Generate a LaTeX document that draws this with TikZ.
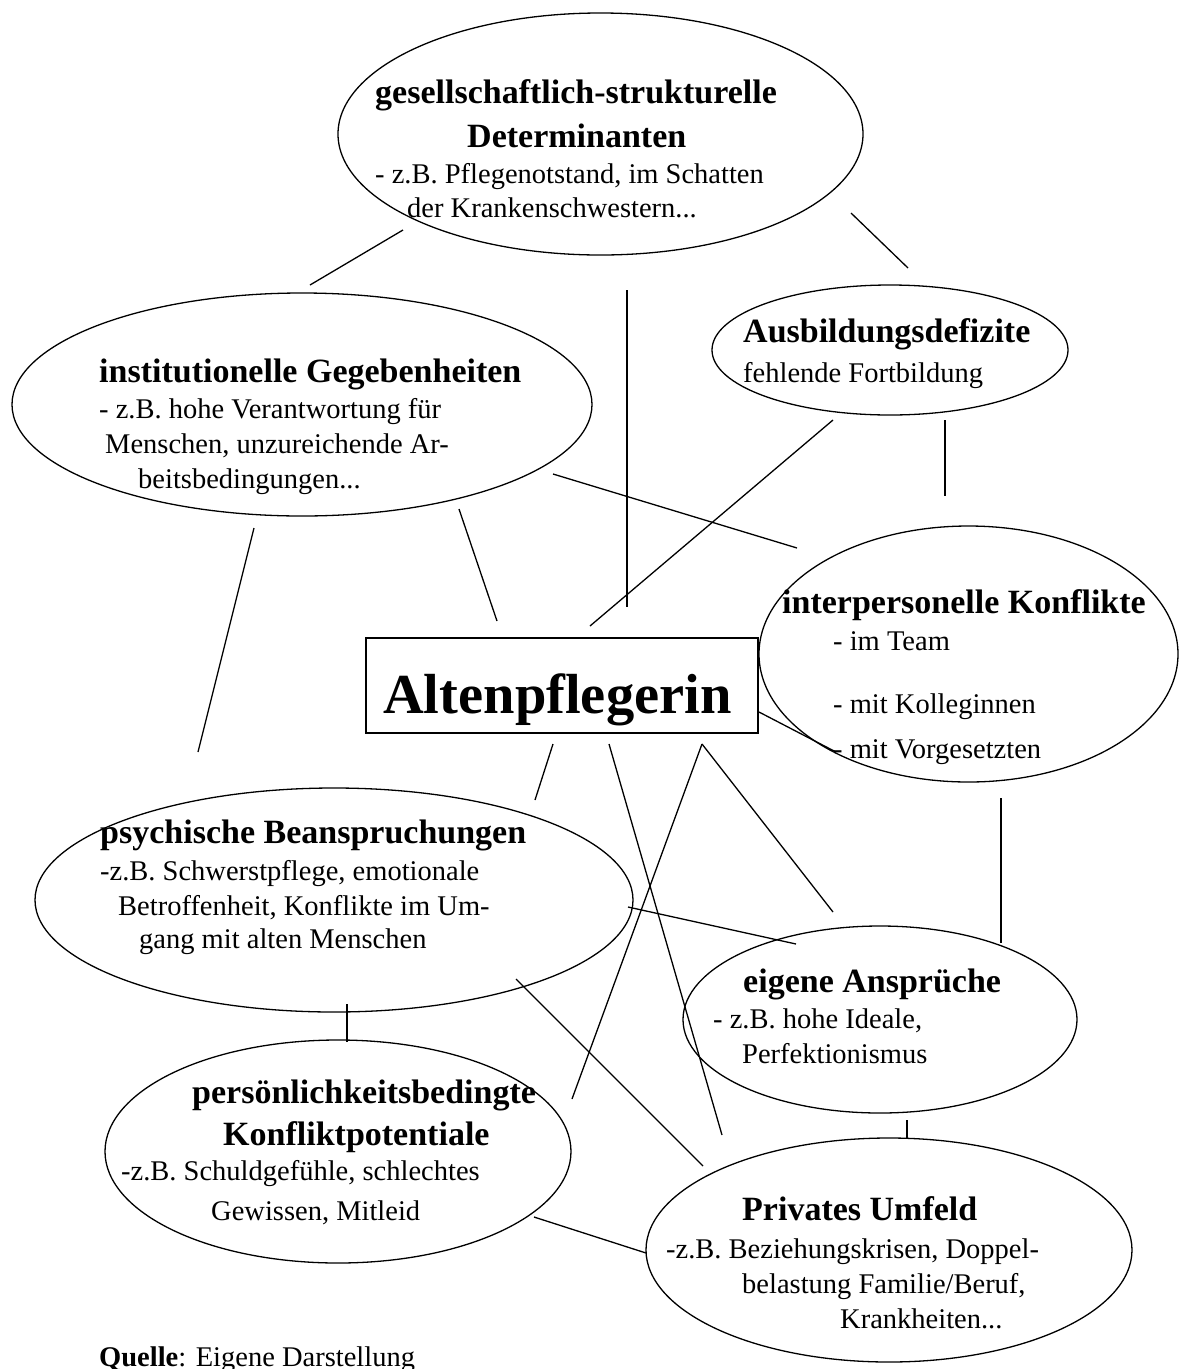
\documentclass[tikz,border=0pt]{standalone}
\usepackage{fontspec}
\setmainfont{Liberation Serif}
\usetikzlibrary{shapes.geometric}
\begin{document}
\begin{tikzpicture}[x=1pt,y=-1pt,
  ell/.style={draw,ellipse,line width=1.3pt,inner sep=0pt,outer sep=0pt},
  link/.style={line width=1.3pt},
  hd/.style={anchor=base west,inner sep=0pt,font=\fontsize{34}{40}\selectfont\bfseries},
  tx/.style={anchor=base west,inner sep=0pt,font=\fontsize{28.5}{34}\selectfont},
  big/.style={anchor=base west,inner sep=0pt,font=\fontsize{56.5}{66}\selectfont\bfseries}]
\useasboundingbox[fill=white] (0,0) rectangle (1179,1369);

% factor ellipses
\node[ell,minimum width=525,minimum height=242] (G)  at (600.5,134) {};
\node[ell,minimum width=580,minimum height=223] (I)  at (302,404.5) {};
\node[ell,minimum width=356,minimum height=130] (A)  at (890,350) {};
\node[ell,minimum width=419,minimum height=256] (K)  at (968.5,654) {};
\node[ell,minimum width=598,minimum height=224] (P)  at (334,900) {};
\node[ell,minimum width=394,minimum height=187] (E)  at (880,1019.5) {};
\node[ell,minimum width=466,minimum height=223] (Pk) at (338,1151.5) {};
\node[ell,minimum width=486,minimum height=224] (Pr) at (889,1250) {};

% central box
\node[draw,line width=1.3pt,minimum width=392,minimum height=95,inner sep=0pt] (box) at (562,685.5) {};
\node[big] (boxt) at (383,713) {Altenpflegerin};

% texts
\node[hd] (G1) at (375,103) {gesellschaftlich-strukturelle};
\node[hd] (G2) at (467,147) {Determinanten};
\node[tx] (G3) at (375,183) {- z.B. Pflegenotstand, im Schatten};
\node[tx] (G4) at (407,217) {der Krankenschwestern...};

\node[hd] (I1) at (99,382) {institutionelle Gegebenheiten};
\node[tx] (I2) at (99,418) {- z.B. hohe Verantwortung für};
\node[tx] (I3) at (105,453) {Menschen, unzureichende Ar-};
\node[tx] (I4) at (138,488) {beitsbedingungen...};

\node[hd] (A1) at (743,342) {Ausbildungsdefizite};
\node[tx] (A2) at (743,382) {fehlende Fortbildung};

\node[hd] (K1) at (782,613) {interpersonelle Konflikte};
\node[tx] (K2) at (833,650) {- im Team};
\node[tx] (K3) at (833,713) {- mit Kolleginnen};
\node[tx] (K4) at (833,758) {- mit Vorgesetzten};

\node[hd] (P1) at (100,843) {psychische Beanspruchungen};
\node[tx] (P2) at (100,880) {-z.B. Schwerstpflege, emotionale};
\node[tx] (P3) at (118,915) {Betroffenheit, Konflikte im Um-};
\node[tx] (P4) at (139,948) {gang mit alten Menschen};

\node[hd] (E1) at (743,992) {eigene Ansprüche};
\node[tx] (E2) at (713,1028) {- z.B. hohe Ideale,};
\node[tx] (E3) at (742,1063) {Perfektionismus};

\node[hd] (Pk1) at (192,1103) {persönlichkeitsbedingte};
\node[hd] (Pk2) at (223,1145) {Konfliktpotentiale};
\node[tx] (Pk3) at (121,1180) {-z.B. Schuldgefühle, schlechtes};
\node[tx] (Pk4) at (211,1220) {Gewissen, Mitleid};

\node[hd] (Pr1) at (742,1220) {Privates Umfeld};
\node[tx] (Pr2) at (666,1258) {-z.B. Beziehungskrisen, Doppel-};
\node[tx] (Pr3) at (742,1293) {belastung Familie/Beruf,};
\node[tx] (Pr4) at (840,1328) {Krankheiten...};

\node[tx] (src) at (99,1366) {\textbf{Quelle}: Eigene Darstellung};

% connector end points
\coordinate (gi1) at (403,230);  \coordinate (gi2) at (310,285);
\coordinate (ga1) at (851,213);  \coordinate (ga2) at (908,268);
\coordinate (gb1) at (627,290);  \coordinate (gb2) at (627,607);
\coordinate (ib1) at (459,509);  \coordinate (ib2) at (497,621);
\coordinate (ip1) at (254,528);  \coordinate (ip2) at (198,752);
\coordinate (ik1) at (553,474);  \coordinate (ik2) at (797,548);
\coordinate (ab1) at (833,420);  \coordinate (ab2) at (590,626);
\coordinate (ak1) at (945,420);  \coordinate (ak2) at (945,496);
\coordinate (bk1) at (759,712);  \coordinate (bk2) at (836,752);
\coordinate (bp1) at (553,744);  \coordinate (bp2) at (535,800);
\coordinate (br1) at (609,744);  \coordinate (br2) at (722,1135);
\coordinate (bx1) at (702,744);  \coordinate (bq2) at (572,1099);
\coordinate (be2) at (833,912);
\coordinate (pe1) at (628,907);  \coordinate (pe2) at (796,944);
\coordinate (pq1) at (347,1004); \coordinate (pq2) at (347,1042);
\coordinate (pr1) at (516,979);  \coordinate (pr2) at (703,1166);
\coordinate (ke1) at (1001,798); \coordinate (ke2) at (1001,943);
\coordinate (er1) at (907,1120); \coordinate (er2) at (907,1138);
\coordinate (qr1) at (534,1217); \coordinate (qr2) at (646,1253);

% connectors
\draw[link] (gi1) -- (gi2);
\draw[link] (ga1) -- (ga2);
\draw[link] (gb1) -- (gb2);
\draw[link] (ib1) -- (ib2);
\draw[link] (ip1) -- (ip2);
\draw[link] (ik1) -- (ik2);
\draw[link] (ab1) -- (ab2);
\draw[link] (ak1) -- (ak2);
\draw[link] (bk1) -- (bk2);
\draw[link] (bp1) -- (bp2);
\draw[link] (br1) -- (br2);
\draw[link] (bx1) -- (bq2);
\draw[link] (bx1) -- (be2);
\draw[link] (pe1) -- (pe2);
\draw[link] (pq1) -- (pq2);
\draw[link] (pr1) -- (pr2);
\draw[link] (ke1) -- (ke2);
\draw[link] (er1) -- (er2);
\draw[link] (qr1) -- (qr2);
\end{tikzpicture}
\end{document}
